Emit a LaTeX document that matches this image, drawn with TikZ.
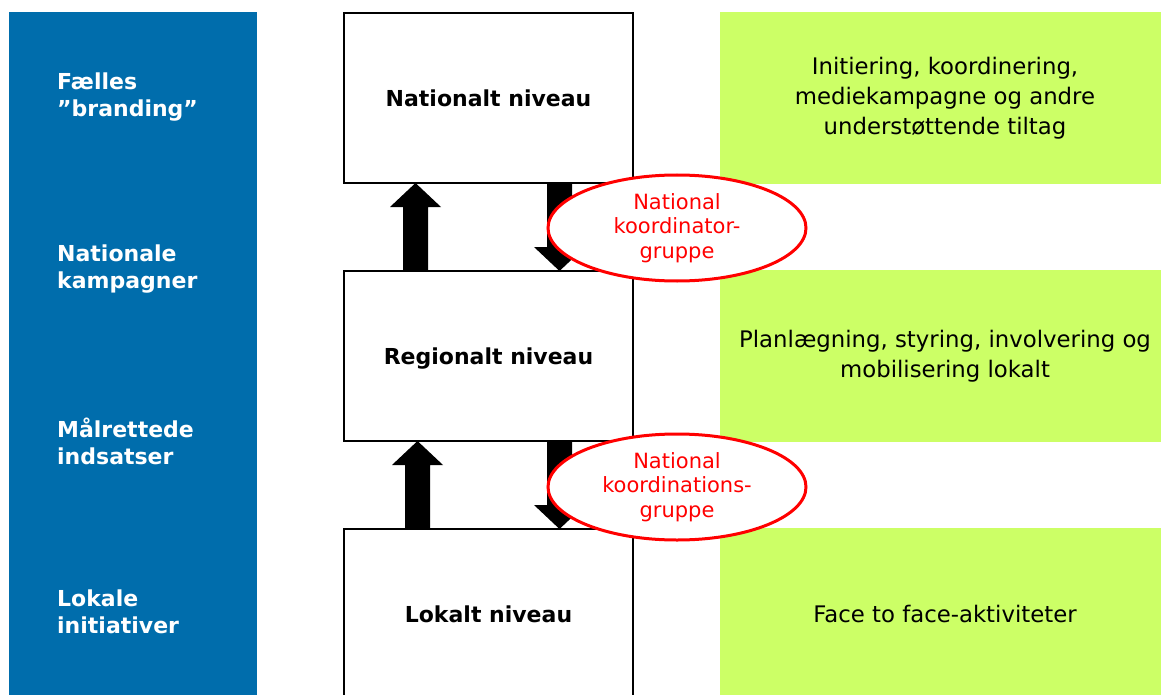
\documentclass[tikz,border=0pt]{standalone}
\usepackage{fontspec}
\setmainfont{DejaVu Sans}
\usetikzlibrary{shapes.geometric,calc}
\definecolor{barblue}{HTML}{006DAC}
\definecolor{lime}{HTML}{CCFF66}
\definecolor{ovalred}{HTML}{FF0000}

% Block arrow from #1 (base) to #2 (tip); #3 = head length signed toward the base
\newcommand\fatarrow[3]{%
  \fill let \p1=(#1), \p2=(#2) in
    (\x1-12.5pt,\y1) -- (\x1-12.5pt,\y2#3) -- (\x1-25.5pt,\y2#3) -- (\x1,\y2)
    -- (\x1+25.5pt,\y2#3) -- (\x1+12.5pt,\y2#3) -- (\x1+12.5pt,\y1) -- cycle;}

\begin{document}
\begin{tikzpicture}[x=1pt,y=-1pt,
  band/.style={fill=barblue, draw=none, inner sep=0, outer sep=0},
  bandlabel/.style={text=white, anchor=west, inner sep=0, align=left,
    font=\bfseries\fontsize{22}{27}\selectfont},
  level/.style={draw=black, line width=2.2pt, fill=white, inner sep=0, outer sep=0,
    minimum width=289pt, minimum height=170pt, text depth=0pt,
    font=\bfseries\fontsize{22}{27}\selectfont},
  task/.style={fill=lime, inner sep=0, outer sep=0, align=center,
    minimum width=450pt, minimum height=172pt,
    font=\fontsize{22.8}{29.8}\selectfont},
  oval/.style={ellipse, draw=ovalred, line width=3pt, fill=white, inner sep=0,
    minimum width=258pt, minimum height=106pt, text=ovalred, align=center,
    font=\fontsize{21}{24.5}\selectfont}]
\useasboundingbox (0,0) rectangle (1161,695);
\clip (0,0) rectangle (1161,695);

% left column
\node[band, minimum width=248pt, minimum height=700pt, anchor=north west] (bar) at (9,12) {};
\node[bandlabel] (l1) at (57,97) {Fælles\\”branding”};
\node[bandlabel] (l2) at (57,269) {Nationale\\kampagner};
\node[bandlabel] (l3) at (57,441) {Målrettede\\indsatser};
\node[bandlabel] (l4) at (57,612) {Lokale\\initiativer};

% right column
\node[task] (g1) at (945,98) {Initiering, koordinering,\\mediekampagne og andre\\understøttende tiltag};
\node[task] (g2) at (945,356) {Planlægning, styring, involvering og\\mobilisering lokalt};
\node[task] (g3) at (945,614) {Face to face-aktiviteter};

% levels
\node[level] (nat) at (488.5,98) {Nationalt niveau};
\node[level] (reg) at (488.5,356) {Regionalt niveau};
\node[level] (lok) at (488.5,614) {Lokalt niveau};

% arrows between levels
\coordinate (u1) at (415.5,0);
\coordinate (u2) at (417.5,0);
\coordinate (d1) at (559.5,0);
\fatarrow{reg.north -| u1}{nat.south -| u1}{-24pt}
\fatarrow{nat.south -| d1}{reg.north -| d1}{+24pt}
\fatarrow{lok.north -| u2}{reg.south -| u2}{-24pt}
\fatarrow{reg.south -| d1}{lok.north -| d1}{+24pt}

% coordination groups
\node[oval] (k1) at (677,228) {National\\koordinator-\\gruppe};
\node[oval] (k2) at (677,487) {National\\koordinations-\\gruppe};
\end{tikzpicture}
\end{document}
